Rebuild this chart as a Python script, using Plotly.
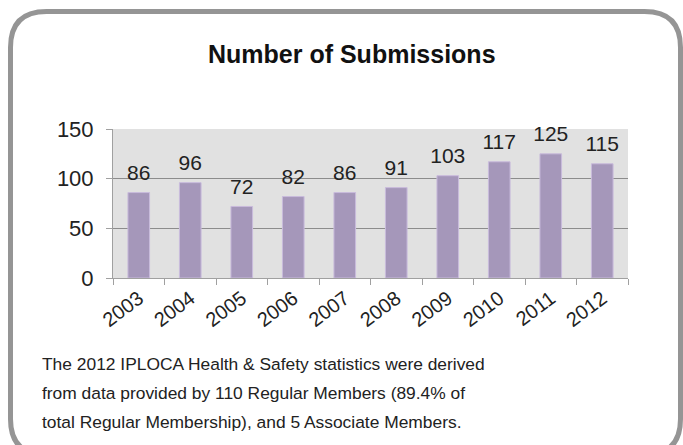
import plotly.graph_objects as go

years = ["2003", "2004", "2005", "2006", "2007", "2008", "2009", "2010", "2011", "2012"]
submissions = [86, 96, 72, 82, 86, 91, 103, 117, 125, 115]
y_ticks = [0, 50, 100, 150]
title_text = "Number of Submissions"
footer_lines = [
    "The 2012 IPLOCA Health &amp; Safety statistics were derived",
    "from data provided by 110 Regular Members (89.4% of",
    "total Regular Membership), and 5 Associate Members.",
]

W, H = 683, 445
L, R, T, B = 113, 628, 129, 278  # plot area in px
pw, ph = R - L, B - T

def px(x):
    return (x - L) / pw

def py(y):
    return (B - y) / ph

FONT = "Liberation Sans, Arial, Helvetica, sans-serif"

fig = go.Figure()
fig.add_trace(go.Bar(
    x=years, y=submissions,
    marker=dict(color="#a597ba", line=dict(color="#c9bbdc", width=1)),
    width=0.42,
    hoverinfo="x+y",
))
fig.add_trace(go.Scatter(
    x=years, y=submissions, mode="markers+text",
    marker=dict(size=10, opacity=0),
    text=[str(v) for v in submissions], textposition="top center",
    textfont=dict(size=21, color="#222222", family=FONT),
    cliponaxis=False, hoverinfo="skip",
))

# rounded frame
x0, x1, y0, y1, r = 10.5, 680.5, 11.5, 455, 36
path = (
    f"M {px(x0 + r)},{py(y0)} L {px(x1 - r)},{py(y0)} "
    f"Q {px(x1)},{py(y0)} {px(x1)},{py(y0 + r)} "
    f"L {px(x1)},{py(y1 - r)} Q {px(x1)},{py(y1)} {px(x1 - r)},{py(y1)} "
    f"L {px(x0 + r)},{py(y1)} Q {px(x0)},{py(y1)} {px(x0)},{py(y1 - r)} "
    f"L {px(x0)},{py(y0 + r)} Q {px(x0)},{py(y0)} {px(x0 + r)},{py(y0)} Z"
)
fig.add_shape(type="path", path=path, xref="paper", yref="paper",
              line=dict(color="#959595", width=5), fillcolor="rgba(0,0,0,0)",
              layer="above")

fig.add_annotation(text=f"<b>{title_text}</b>", xref="paper", yref="paper",
                   x=px(352), y=py(54), xanchor="center", yanchor="middle",
                   showarrow=False, font=dict(size=25, color="#111111", family=FONT))

for i, line in enumerate(footer_lines):
    fig.add_annotation(text=line, xref="paper", yref="paper",
                       x=px(40), y=py(364 + i * 29), xanchor="left", yanchor="middle",
                       showarrow=False, font=dict(size=17.4, color="#222222", family=FONT))

fig.update_layout(
    width=W, height=H,
    margin=dict(l=L, r=W - R, t=T, b=H - B),
    paper_bgcolor="white",
    plot_bgcolor="#e1e1e1",
    showlegend=False,
    font=dict(family=FONT, color="#222222"),
    xaxis=dict(
        type="category", range=[-0.5, len(years) - 0.5],
        tickangle=-37, tickson="boundaries",
        ticks="outside", ticklen=6, tickcolor="#a0a0a0",
        showline=True, linecolor="#a0a0a0", linewidth=1,
        showgrid=False,
        tickfont=dict(size=20, color="#222222", family=FONT),
    ),
    yaxis=dict(
        range=[0, 150], tickvals=y_ticks,
        ticks="outside", ticklen=6, tickcolor="#a0a0a0",
        showline=True, linecolor="#a0a0a0", linewidth=1,
        showgrid=True, gridcolor="#8c8c8c", gridwidth=1,
        zeroline=False,
        tickfont=dict(size=22, color="#222222", family=FONT),
        ticklabelstandoff=8,
    ),
)

fig.write_html("out.html")
